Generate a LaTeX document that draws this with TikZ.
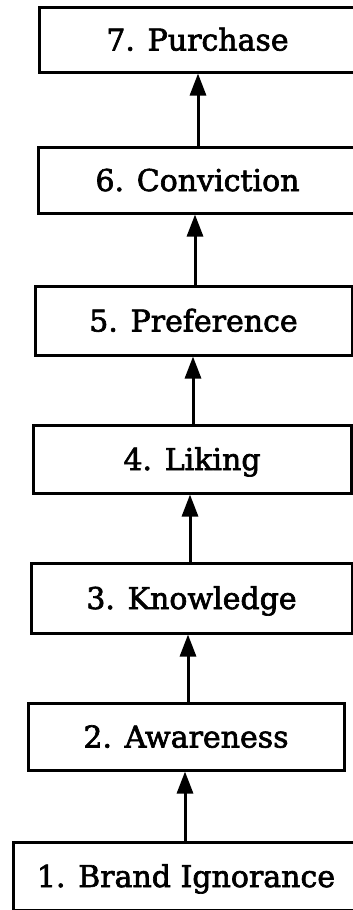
\documentclass[tikz,border=0pt]{standalone}
\usepackage{fontspec}
\setmainfont{DejaVu Serif}
\newfontfamily\stagefont{DejaVu Serif}[FakeBold=2.2]
\usetikzlibrary{arrows.meta}
\begin{document}
\begin{tikzpicture}[x=1pt,y=-1pt,
  stage/.style={draw, line width=3pt, font=\stagefont\fontsize{30}{30}\selectfont,
    inner sep=0pt, text height=22pt, text depth=0pt, anchor=center},
  arr/.style={line width=3pt, -{Triangle[length=22pt,width=16pt]}}]
\useasboundingbox (0,0) rectangle (353,910);
\clip (0,0) rectangle (353,910);
\fill[white] (0,0) rectangle (353,910);
\node[stage, minimum width=317pt, minimum height=65pt] (b7) at (197.5,39.5) {7. Purchase};
\node[stage, minimum width=319pt, minimum height=66pt] (b6) at (197.5,180) {6. Conviction};
\node[stage, minimum width=317pt, minimum height=69pt] (b5) at (193.5,320.5) {5. Preference};
\node[stage, minimum width=318pt, minimum height=68pt] (b4) at (192,459) {4. Liking};
\node[stage, minimum width=321pt, minimum height=70pt] (b3) at (191.5,598) {3. Knowledge};
\node[stage, minimum width=316pt, minimum height=67pt] (b2) at (186,736.5) {2. Awareness};
\node[stage, minimum width=346pt, minimum height=68pt] (b1) at (186,876) {1. Brand Ignorance};
\draw[arr] (b6.north -| 198,0) -- (b7.south -| 198,0);
\draw[arr] (b5.north -| 195,0) -- (b6.south -| 195,0);
\draw[arr] (b4.north -| 193,0) -- (b5.south -| 193,0);
\draw[arr] (b3.north -| 190,0) -- (b4.south -| 190,0);
\draw[arr] (b2.north -| 188,0) -- (b3.south -| 188,0);
\draw[arr] (b1.north -| 185,0) -- (b2.south -| 185,0);
\end{tikzpicture}
\end{document}
